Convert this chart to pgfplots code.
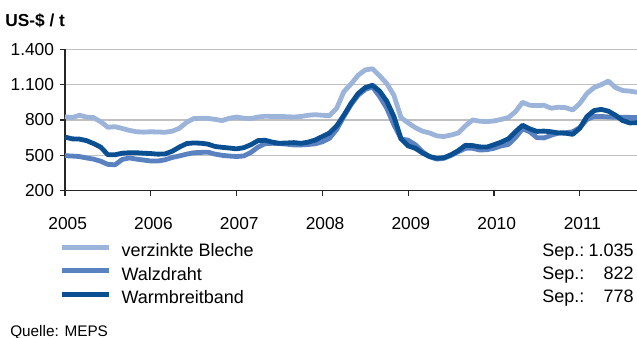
\documentclass[border=0pt]{standalone}
\usepackage{pgfplots}
\pgfplotsset{compat=1.18}
\usepackage{pgfplotstable}
\usepackage{fontspec}
\setmainfont{Liberation Sans}
\definecolor{cL}{HTML}{9CB4DA}
\definecolor{cW}{HTML}{5B82C0}
\definecolor{cH}{HTML}{0A4F92}
\definecolor{gridc}{HTML}{C0C0C0}
\pgfplotstableread{
m L W H
0 828 497 655
1 820 494 640
2 840 490 638
3 825 478 625
4 820 468 600
5 785 450 570
6 738 423 505
7 743 420 505
8 728 465 518
9 712 478 522
10 700 468 522
11 697 460 518
12 700 452 515
13 698 452 510
14 696 462 512
15 705 482 535
16 730 495 570
17 780 510 600
18 812 522 605
19 815 525 603
20 814 527 595
21 805 510 575
22 795 500 568
23 815 494 562
24 825 490 555
25 815 495 565
26 812 525 590
27 825 570 625
28 832 600 628
29 830 602 612
30 830 600 602
31 828 595 605
32 825 588 608
33 830 588 602
34 840 592 612
35 845 598 630
36 840 615 660
37 837 645 690
38 900 720 750
39 1040 830 840
40 1105 930 940
41 1180 1010 1025
42 1225 1060 1075
43 1235 1080 1095
44 1175 1000 1045
45 1110 900 960
46 1010 760 830
47 820 640 640
48 775 628 580
49 735 590 560
50 705 530 520
51 690 488 490
52 665 468 475
53 660 475 480
54 672 500 505
55 690 530 540
56 750 560 585
57 800 560 583
58 790 545 572
59 786 548 570
60 792 560 590
61 805 580 612
62 820 592 640
63 870 650 700
64 950 725 755
65 925 700 725
66 922 650 703
67 925 648 706
68 900 670 700
69 908 690 690
70 905 692 688
71 885 700 678
72 940 735 730
73 1025 805 830
74 1075 830 880
75 1100 830 890
76 1130 826 875
77 1075 823 840
78 1050 823 795
79 1045 822 775
80 1035 822 778
}\data
\begin{document}
\begin{tikzpicture}
\useasboundingbox (-48.75pt,-110.475pt) rectangle (429pt,143.025pt);
\begin{axis}[
  at={(0,0)}, anchor=south west,
  scale only axis, width=429pt, height=106.05pt,
  xmin=0, xmax=80, ymin=200, ymax=1400,
  axis x line=bottom, axis y line=left,
  axis line style={-, black!85, line width=0.8pt},
  tick style={black!85, line width=0.8pt},
  tick align=outside, major tick length=3.75pt,
  xtick={0,12,24,36,48,60,72},
  xticklabels={2005,2006,2007,2008,2009,2010,2011},
  ytick={200,500,800,1100,1400},
  yticklabels={200,500,800,1.100,1.400},
  ymajorgrids, major grid style={gridc, line width=0.9pt},
  xticklabel style={font=\fontsize{13}{15}\selectfont, inner sep=0pt, anchor=north, yshift=-15.75pt, xshift=2pt},
  yticklabel style={font=\fontsize{13}{15}\selectfont, inner sep=0pt, anchor=east, xshift=-4.3pt},
  /pgf/number format/assume math mode=true,
  clip=false,
  legend style={at={(0,0)}, anchor=north west, xshift=-4.3pt, yshift=-39.5pt,
    draw=none, fill=none, inner sep=0pt, outer sep=0pt, row sep=4.6pt, column sep=7.5pt,
    font=\fontsize{13.5}{15}\selectfont,
    nodes={inner sep=0pt, text height=10pt, text depth=3pt}},
  legend cell align=left,
  legend image code/.code={\draw[#1, line width=3.75pt, line cap=butt] (0pt,3.5pt) -- (35.5pt,3.5pt);},
  every axis plot/.append style={line width=3.6pt, line join=round, mark=none},
]
\addplot[cL] table[x=m, y=L] {\data};
\addlegendentry{verzinkte Bleche}
\addplot[cW] table[x=m, y=W] {\data};
\addlegendentry{Walzdraht}
\addplot[cH] table[x=m, y=H] {\data};
\addlegendentry{Warmbreitband}
\end{axis}
\begin{scope}[every node/.style={inner sep=0pt, font=\fontsize{13.5}{15}\selectfont}]
\node[anchor=base west, font=\bfseries\fontsize{13}{15}\selectfont] at (-45pt,123pt) {US-\$ / t};
\node[anchor=base west] at (357.75pt,-49.2pt) {Sep.:};
\node[anchor=base west] at (357.75pt,-66.4pt) {Sep.:};
\node[anchor=base west] at (357.75pt,-84.2pt) {Sep.:};
\node[anchor=base east] at (426.75pt,-49.2pt) {1.035};
\node[anchor=base east] at (426.75pt,-66.4pt) {822};
\node[anchor=base east] at (426.75pt,-84.2pt) {778};
\node[anchor=base west, font=\fontsize{11.5}{13}\selectfont] at (-41.25pt,-109pt) {Quelle: MEPS};
\end{scope}
\end{tikzpicture}
\end{document}
